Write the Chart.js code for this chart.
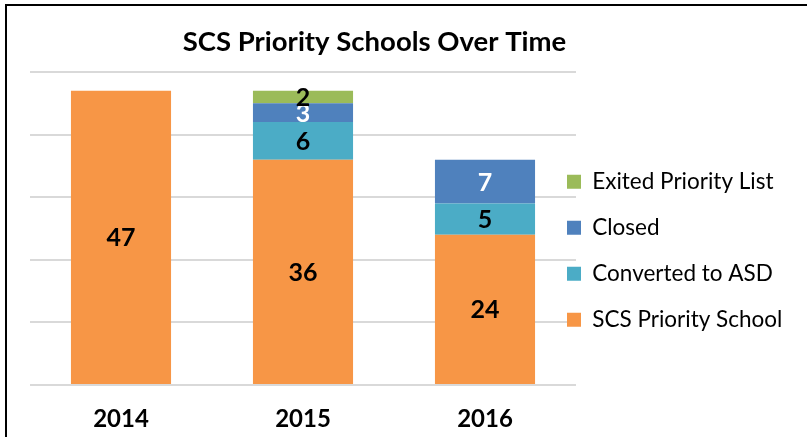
<!DOCTYPE html>
<html>
<head>
<meta charset="utf-8">
<script src="https://cdn.jsdelivr.net/npm/chart.js@4/dist/chart.umd.min.js"></script>
<style>
  html, body { margin: 0; padding: 0; background: #fff; overflow: hidden; }
  #frame { position: absolute; left: 5px; top: 4px; width: 820px; height: 460px;
           border-top: 2px solid #000; border-left: 2px solid #000; }
  #c { position: absolute; left: 0; top: 0; }
</style>
</head>
<body>
<div id="frame"></div>
<canvas id="c" width="807" height="437"></canvas>
<script>
const categories = ['2014', '2015', '2016'];
const seriesNames = ['SCS Priority School', 'Converted to ASD', 'Closed', 'Exited Priority List'];
const scsPriority = [47, 36, 24];
const convertedASD = [null, 6, 5];
const closed = [null, 3, 7];
const exited = [null, 2, null];
const yTicks = [0, 10, 20, 30, 40, 50];

const colors = ['#F79646', '#4BACC6', '#4F81BD', '#9BBB59'];
const labelColors = ['#000', '#000', '#fff', '#000'];
const FONT = 'Lato, "Open Sans", sans-serif';

const valueLabels = {
  id: 'valueLabels',
  afterDatasetsDraw(chart) {
    const ctx = chart.ctx;
    ctx.save();
    ctx.font = 'bold 25px ' + FONT;
    ctx.textAlign = 'center';
    ctx.textBaseline = 'middle';
    chart.data.datasets.forEach((ds, i) => {
      const meta = chart.getDatasetMeta(i);
      meta.data.forEach((el, j) => {
        const v = ds.data[j];
        if (v === null || v === undefined) return;
        const p = el.getCenterPoint();
        ctx.fillStyle = labelColors[i];
        ctx.fillText(String(v), p.x, p.y + 1);
      });
    });
    ctx.restore();
  }
};

const layoutTweaks = {
  id: 'layoutTweaks',
  afterLayout(chart) {
    const t = chart.titleBlock;
    if (t) { const shift = -44; t.left += shift; t.right += shift; }
    const lg = chart.legend;
    if (lg) {
      const pad = lg.options.labels.padding;
      const dx = (chart.chartArea.right - 9) - (lg.left + pad);
      lg.left += dx;
      lg.right = chart.width;
      lg.width = lg.right - lg.left;
      const dy = 147 - lg.top;
      lg.top += dy; lg.bottom += dy;
    }
  }
};

new Chart(document.getElementById('c'), {
  type: 'bar',
  data: {
    labels: categories,
    datasets: [
      { label: seriesNames[0], data: scsPriority, backgroundColor: colors[0] },
      { label: seriesNames[1], data: convertedASD, backgroundColor: colors[1] },
      { label: seriesNames[2], data: closed, backgroundColor: colors[2] },
      { label: seriesNames[3], data: exited, backgroundColor: colors[3] }
    ]
  },
  options: {
    responsive: false,
    animation: false,
    devicePixelRatio: 1,
    layout: { padding: { left: 30, right: 0, top: 22, bottom: 0 } },
    datasets: { bar: { barPercentage: 0.55, categoryPercentage: 1.0 } },
    scales: {
      x: {
        stacked: true,
        grid: { display: false },
        border: { display: false },
        afterFit(scale) { scale.height = 52; },
        ticks: { color: '#000', font: { family: FONT, size: 24, weight: 'bold' }, padding: 12 }
      },
      y: {
        stacked: true,
        min: 0, max: 50,
        afterBuildTicks(scale) { scale.ticks = yTicks.map(v => ({ value: v })); },
        grid: { color: '#d9d9d9', lineWidth: 2, drawTicks: false },
        border: { display: false },
        ticks: { display: false }
      }
    },
    plugins: {
      title: {
        display: true,
        text: 'SCS Priority Schools Over Time',
        color: '#000',
        font: { family: FONT, size: 27.5, weight: 'bold' },
        padding: { top: 4, bottom: 13 }
      },
      legend: {
        position: 'right',
        align: 'start',
        fullSize: false,
        reverse: true,
        maxWidth: 231,
        labels: {
          color: '#000',
          font: { family: FONT, size: 22.5 },
          boxWidth: 14,
          boxHeight: 14,
          padding: 23.5
        }
      },
      tooltip: { enabled: false }
    }
  },
  plugins: [valueLabels, layoutTweaks]
});
</script>
</body>
</html>
